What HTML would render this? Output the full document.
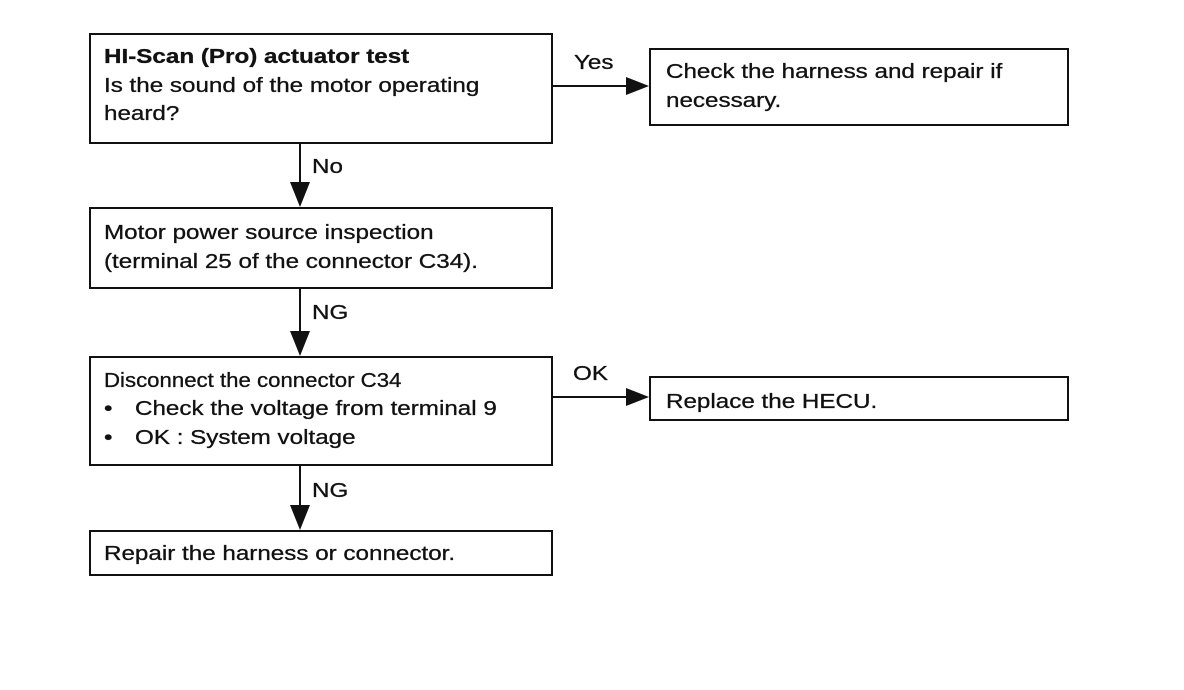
<!DOCTYPE html>
<html><head><meta charset="utf-8"><style>
body{margin:0;background:#fff;width:1184px;height:690px;position:relative;overflow:hidden;font-family:"Liberation Sans",Arial,sans-serif;color:#111}
.b{position:absolute;border:2px solid #111;box-sizing:border-box}
.t{position:absolute;font-size:20px;line-height:20px;white-space:nowrap;-webkit-text-stroke:0.3px #111;transform:scaleX(1.21);transform-origin:0 0}
</style></head><body>
<div class="b" style="left:89px;top:33px;width:464px;height:111px"></div>
<div class="b" style="left:649px;top:48px;width:420px;height:78px"></div>
<div class="b" style="left:89px;top:207px;width:464px;height:82px"></div>
<div class="b" style="left:89px;top:356px;width:464px;height:110px"></div>
<div class="b" style="left:649px;top:376px;width:420px;height:45px"></div>
<div class="b" style="left:89px;top:530px;width:464px;height:46px"></div>
<svg width="1184" height="690" style="position:absolute;left:0;top:0">
<g stroke="#111" stroke-width="2" fill="#111">
<line x1="553" y1="86" x2="630" y2="86"/><polygon points="626,77 649,86 626,95" stroke="none"/>
<line x1="553" y1="397" x2="630" y2="397"/><polygon points="626,388 649,397 626,406" stroke="none"/>
<line x1="300" y1="144" x2="300" y2="190"/><polygon points="290,182 310,182 300,207" stroke="none"/>
<line x1="300" y1="289" x2="300" y2="340"/><polygon points="290,331 310,331 300,356" stroke="none"/>
<line x1="300" y1="466" x2="300" y2="515"/><polygon points="290,505 310,505 300,530" stroke="none"/>
</g></svg>
<div class="t" style="left:104px;top:47px;font-weight:bold">HI-Scan (Pro) actuator test</div>
<div class="t" style="left:104px;top:76px">Is the sound of the motor operating</div>
<div class="t" style="left:104px;top:104px">heard?</div>
<div class="t" style="left:574px;top:53px">Yes</div>
<div class="t" style="left:666px;top:62px">Check the harness and repair if</div>
<div class="t" style="left:666px;top:91px">necessary.</div>
<div class="t" style="left:312px;top:157px">No</div>
<div class="t" style="left:104px;top:223px">Motor power source inspection</div>
<div class="t" style="left:104px;top:252px">(terminal 25 of the connector C34).</div>
<div class="t" style="left:312px;top:303px">NG</div>
<div class="t" style="left:104px;top:371px;transform:scaleX(1.11)">Disconnect the connector C34</div>
<div class="t" style="left:104px;top:399px">•</div><div class="t" style="left:135px;top:399px">Check the voltage from terminal 9</div>
<div class="t" style="left:104px;top:428px">•</div><div class="t" style="left:135px;top:428px">OK : System voltage</div>
<div class="t" style="left:573px;top:364px">OK</div>
<div class="t" style="left:666px;top:392px">Replace the HECU.</div>
<div class="t" style="left:312px;top:481px">NG</div>
<div class="t" style="left:104px;top:544px">Repair the harness or connector.</div>
</body></html>
